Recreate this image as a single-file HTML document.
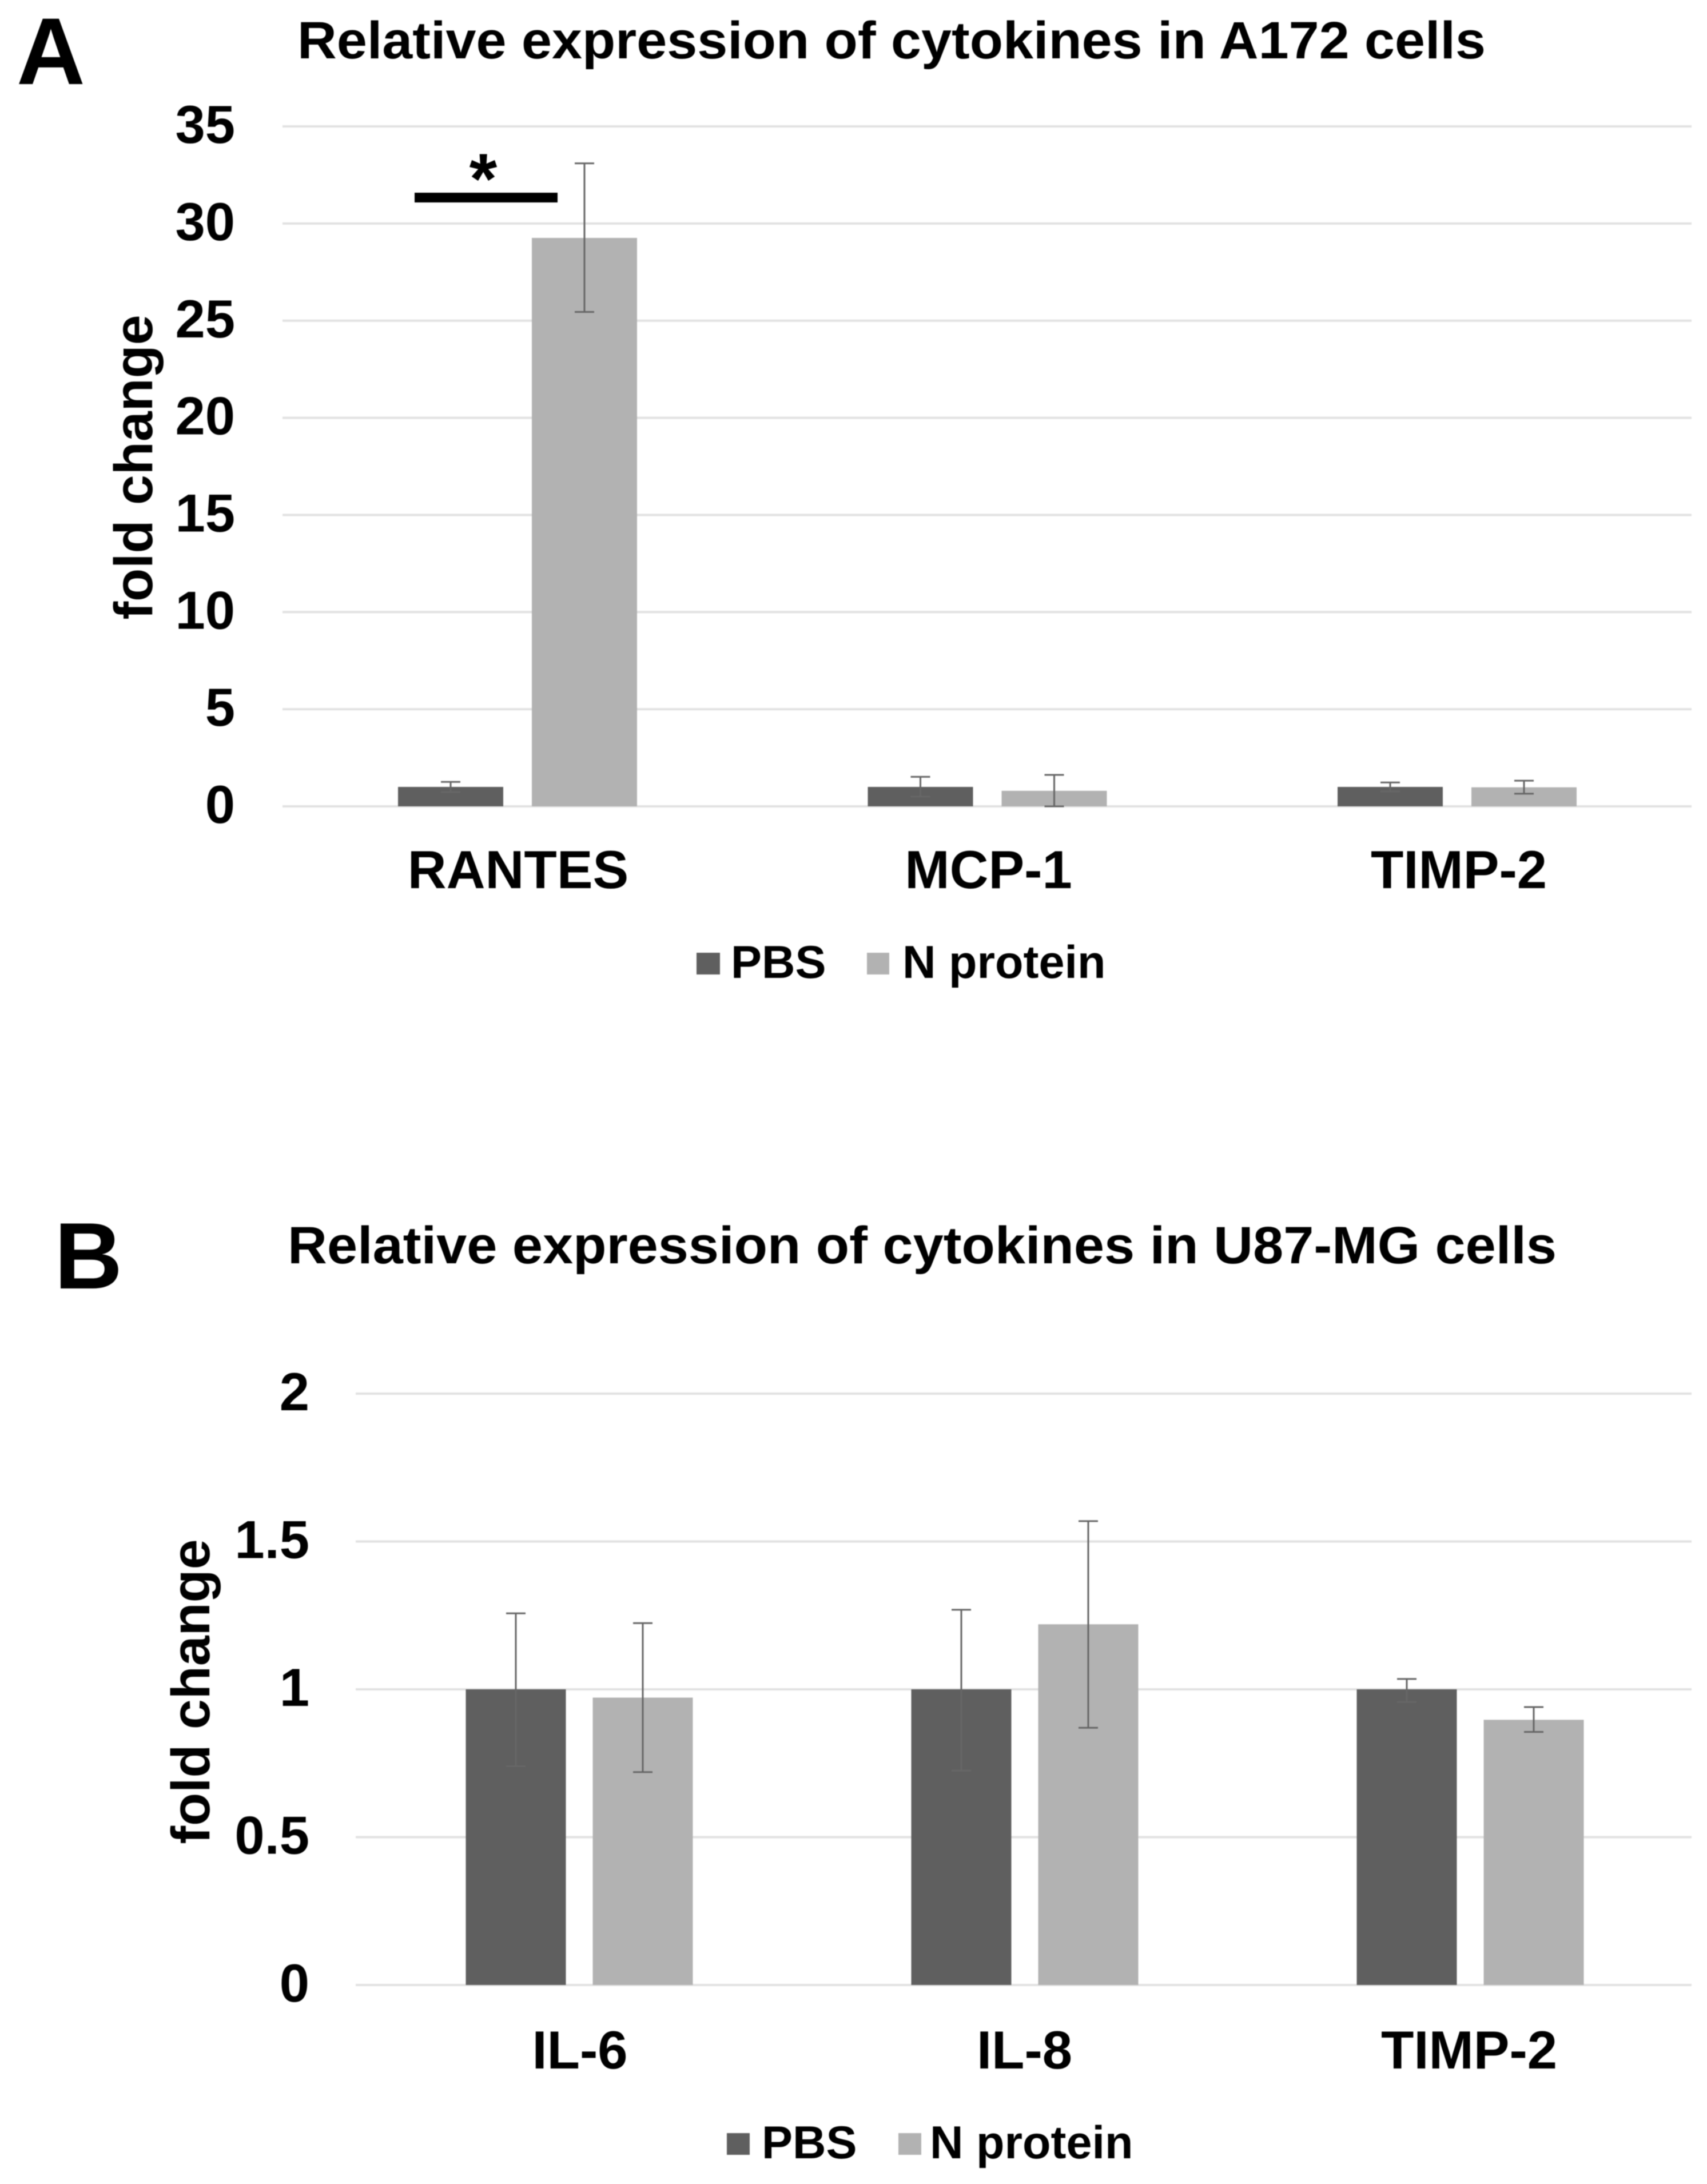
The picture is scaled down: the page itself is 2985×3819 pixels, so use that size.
<!DOCTYPE html>
<html lang="en">
<head>
<meta charset="utf-8">
<title>Relative expression of cytokines</title>
<style>
html,body{margin:0;padding:0;background:#fff;width:2985px;height:3819px;overflow:hidden}
svg{display:block;filter:blur(0.8px)}
text{font-family:"Liberation Sans",Arial,sans-serif;font-weight:700;fill:#000}
</style>
</head>
<body>
<svg id="figure" xmlns="http://www.w3.org/2000/svg" width="2985" height="3819" viewBox="0 0 2985 3819">
  <rect x="0" y="0" width="2985" height="3819" fill="#ffffff"/>

  <text x="29" y="147" font-size="166">A</text>
  <text x="520" y="102" font-size="92" textLength="2078" lengthAdjust="spacingAndGlyphs">Relative expression of cytokines in A172 cells</text>
  <g id="chart-a"></g>
  <text transform="translate(266,817) rotate(-90)" text-anchor="middle" font-size="95">fold change</text>
  <rect x="725" y="337" width="250" height="17" fill="#000"/>
  <text x="845" y="356" text-anchor="middle" font-size="125">*</text>
  <rect x="1218" y="1666" width="41" height="38" fill="#5f5f5f"/>
  <text x="1278" y="1710" font-size="81">PBS</text>
  <rect x="1516" y="1666" width="39" height="38" fill="#b2b2b2"/>
  <text x="1578" y="1710" font-size="81">N protein</text>

  <text x="95" y="2253" font-size="165">B</text>
  <text x="503" y="2209" font-size="92" textLength="2219" lengthAdjust="spacingAndGlyphs">Relative expression of cytokines in U87-MG cells</text>
  <g id="chart-b"></g>
  <text transform="translate(366,2958) rotate(-90)" text-anchor="middle" font-size="95">fold change</text>
  <rect x="1271" y="3730" width="40" height="38" fill="#5f5f5f"/>
  <text x="1332" y="3774" font-size="81">PBS</text>
  <rect x="1571" y="3730" width="40" height="38" fill="#b2b2b2"/>
  <text x="1626" y="3774" font-size="81">N protein</text>
</svg>

<script>
// ---- Panel A data ----
const aCategories = ["RANTES", "MCP-1", "TIMP-2"];
const aTicks = [0, 5, 10, 15, 20, 25, 30, 35];
const aTickLabels = ["0", "5", "10", "15", "20", "25", "30", "35"];
const aPbs = [1, 1, 1];
const aPbsHigh = [1.26, 1.52, 1.23];
const aPbsLow = [0.74, 0.5, 0.77];
const aNProtein = [29.26, 0.8, 0.98];
const aNProteinHigh = [33.1, 1.62, 1.32];
const aNProteinLow = [25.45, 0, 0.65];

// ---- Panel B data ----
const bCategories = ["IL-6", "IL-8", "TIMP-2"];
const bTicks = [0, 0.5, 1, 1.5, 2];
const bTickLabels = ["0", "0.5", "1", "1.5", "2"];
const bPbs = [1, 1, 1];
const bPbsHigh = [1.257, 1.269, 1.035];
const bPbsLow = [0.74, 0.725, 0.957];
const bNProtein = [0.972, 1.22, 0.897];
const bNProteinHigh = [1.224, 1.569, 0.94];
const bNProteinLow = [0.72, 0.87, 0.856];

const SVG_NS = "http://www.w3.org/2000/svg";
const PBS_COLOR = "#5f5f5f";
const N_COLOR = "#b2b2b2";

function makeEl(parent, tag) {
  const el = document.createElementNS(SVG_NS, tag);
  parent.appendChild(el);
  return el;
}

function drawChart(cfg) {
  const root = document.getElementById(cfg.id);
  const y = v => cfg.y0 - v * cfg.yScale;
  const barCenter = i => cfg.barC0 + i * cfg.barStep;
  const labelCenter = i => cfg.labelC0 + i * cfg.labelStep;

  cfg.ticks.forEach((t, i) => {
    const grid = makeEl(root, "line");
    
    
    grid.setAttribute("x1", cfg.left);
    grid.setAttribute("x2", cfg.right);
    grid.setAttribute("y1", y(t));
    grid.setAttribute("y2", y(t));
    grid.setAttribute("stroke", "#e2e2e2");
    grid.setAttribute("stroke-width", "4");

    const label = makeEl(root, "text");
    
    
    label.setAttribute("x", cfg.tickRight);
    label.setAttribute("y", y(t) + 29);
    label.setAttribute("text-anchor", "end");
    label.setAttribute("font-size", "94");
    label.textContent = cfg.tickLabels[i];
  });

  function series(values, high, low, offset, color, name) {
    values.forEach((v, i) => {
      const cx = barCenter(i) + offset;
      const bar = makeEl(root, "rect");
      
      
      bar.setAttribute("x", cx - cfg.barW / 2);
      bar.setAttribute("y", y(v));
      bar.setAttribute("width", cfg.barW);
      bar.setAttribute("height", y(0) - y(v));
      bar.setAttribute("fill", color);
    });
    values.forEach((v, i) => {
      const cx = barCenter(i) + offset;
      const stem = makeEl(root, "line");
      
      
      stem.setAttribute("x1", cx);
      stem.setAttribute("x2", cx);
      stem.setAttribute("y1", y(high[i]));
      stem.setAttribute("y2", y(low[i]));
      stem.setAttribute("stroke", "#666666");
      stem.setAttribute("stroke-width", "3");

      [high[i], low[i]].forEach(end => {
        const cap = makeEl(root, "line");
        
        
        cap.setAttribute("x1", cx - 17);
        cap.setAttribute("x2", cx + 17);
        cap.setAttribute("y1", y(end));
        cap.setAttribute("y2", y(end));
        cap.setAttribute("stroke", "#666666");
        cap.setAttribute("stroke-width", "3");
      });
    });
  }

  series(cfg.pbs, cfg.pbsHigh, cfg.pbsLow, -cfg.barOffset, PBS_COLOR, "pbs");
  series(cfg.nProtein, cfg.nHigh, cfg.nLow, cfg.barOffset, N_COLOR, "n-protein");

  cfg.categories.forEach((c, i) => {
    const label = makeEl(root, "text");
    
    
    label.setAttribute("x", labelCenter(i));
    label.setAttribute("y", cfg.labelY);
    label.setAttribute("text-anchor", "middle");
    label.setAttribute("font-size", "94");
    label.textContent = c;
  });
}

drawChart({
  id: "chart-a", left: 494, right: 2958, y0: 1410, yScale: 33.97, tickRight: 411,
  barC0: 905, barStep: 821.5, barOffset: 117, barW: 184,
  labelC0: 906, labelStep: 822.5, labelY: 1553,
  categories: aCategories, ticks: aTicks, tickLabels: aTickLabels,
  pbs: aPbs, pbsHigh: aPbsHigh, pbsLow: aPbsLow,
  nProtein: aNProtein, nHigh: aNProteinHigh, nLow: aNProteinLow
});

drawChart({
  id: "chart-b", left: 622, right: 2958, y0: 3471, yScale: 517, tickRight: 541,
  barC0: 1013, barStep: 779, barOffset: 111, barW: 175,
  labelC0: 1014, labelStep: 777.5, labelY: 3617,
  categories: bCategories, ticks: bTicks, tickLabels: bTickLabels,
  pbs: bPbs, pbsHigh: bPbsHigh, pbsLow: bPbsLow,
  nProtein: bNProtein, nHigh: bNProteinHigh, nLow: bNProteinLow
});
</script>
</body>
</html>
